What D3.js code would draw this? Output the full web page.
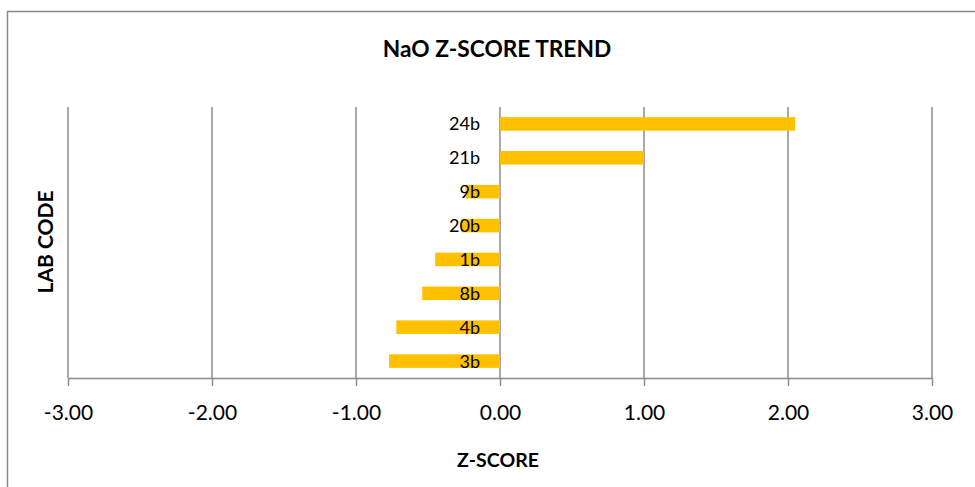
<!DOCTYPE html>
<html>
<head>
<meta charset="utf-8">
<script src="https://cdn.jsdelivr.net/npm/d3@7"></script>
<style>
  html, body { margin: 0; padding: 0; background: #fff; }
  svg { display: block; }
  text { font-family: Lato, "Open Sans", sans-serif; fill: #000; }
</style>
</head>
<body>
<svg id="chart" width="975" height="487"></svg>
<script>
// Data (top to bottom as shown)
const labCodes = ["24b", "21b", "9b", "20b", "1b", "8b", "4b", "3b"];
const zScores  = [2.05, 1.00, -0.24, -0.27, -0.45, -0.54, -0.72, -0.77];
const xTicks   = [-3, -2, -1, 0, 1, 2, 3];
const titleText = "NaO Z-SCORE TREND";
const xTitle = "Z-SCORE";
const yTitle = "LAB CODE";

const svg = d3.select("#chart");
const W = 975, H = 487;

// chart frame
svg.append("rect")
  .attr("x", 7.5).attr("y", 11.5)
  .attr("width", W + 10).attr("height", H + 10)
  .attr("fill", "#fff").attr("stroke", "#8a8a8a").attr("stroke-width", 1.5);

const plot = { left: 68, right: 932, top: 107, bottom: 378 };

const x = d3.scaleLinear().domain([-3, 3]).range([plot.left, plot.right]);
const y = d3.scaleBand().domain(labCodes).range([plot.top, plot.bottom])
  .paddingInner(0.6).paddingOuter(0.3);

// vertical gridlines
svg.append("g").selectAll("line").data(xTicks).join("line")
  .attr("x1", d => x(d)).attr("x2", d => x(d))
  .attr("y1", plot.top).attr("y2", plot.bottom)
  .attr("stroke", "#8c8c8c").attr("stroke-width", 1.5);

// bars
svg.append("g").selectAll("rect").data(labCodes).join("rect")
  .attr("x", (d, i) => Math.min(x(0), x(zScores[i])))
  .attr("width", (d, i) => Math.abs(x(zScores[i]) - x(0)))
  .attr("y", d => y(d))
  .attr("height", y.bandwidth())
  .attr("fill", "#FFC000");

// x axis
const fmt = d => d3.format(".2f")(d).replace("\u2212", "-");
const xAxis = d3.axisBottom(x).tickValues(xTicks)
  .tickFormat(fmt).tickSizeInner(8).tickSizeOuter(0).tickPadding(19);
const gx = svg.append("g").attr("transform", `translate(0,${plot.bottom})`).call(xAxis);
gx.select(".domain").attr("stroke", "#8c8c8c").attr("stroke-width", 1.5);
gx.selectAll(".tick line").attr("stroke", "#8c8c8c").attr("stroke-width", 1.5);
gx.selectAll(".tick text").attr("font-size", 21).attr("font-family", "Lato, sans-serif").attr("fill", "#000");

// category labels (drawn at zero line, like Excel axis labels)
svg.append("g").selectAll("text").data(labCodes).join("text")
  .attr("x", x(0) - 20)
  .attr("y", d => y(d) + y.bandwidth() / 2)
  .attr("dy", "0.36em")
  .attr("text-anchor", "end")
  .attr("font-size", 18)
  .text(d => d);

// title
svg.append("text").attr("x", 497).attr("y", 56.5)
  .attr("text-anchor", "middle").attr("font-size", 22.7).attr("font-weight", "bold")
  .text(titleText);

// axis titles
svg.append("text").attr("x", 498).attr("y", 466.5)
  .attr("text-anchor", "middle").attr("font-size", 19.5).attr("font-weight", "bold")
  .text(xTitle);

svg.append("text")
  .attr("transform", "translate(53,242) rotate(-90)")
  .attr("text-anchor", "middle").attr("font-size", 21).attr("font-weight", "bold")
  .text(yTitle);
</script>
</body>
</html>
